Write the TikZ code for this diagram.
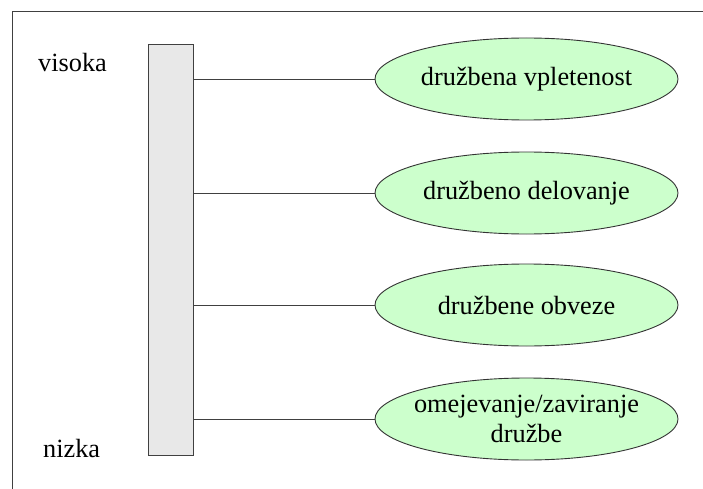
\documentclass[tikz,border=0pt]{standalone}
\usepackage{fontspec}
\setmainfont{LiberationSerif}[Extension=.ttf, UprightFont=*-Regular]
\usetikzlibrary{shapes.geometric}

\definecolor{barfill}{HTML}{E8E8E8}
\definecolor{topicfill}{HTML}{CCFFCC}
\definecolor{edgegray}{HTML}{404040}

\tikzset{
  scalebar/.style={draw=edgegray, line width=0.9pt, fill=barfill, rectangle,
    minimum width=45pt, minimum height=411pt, inner sep=0pt},
  topic/.style={draw=black!80, line width=0.9pt, fill=topicfill, ellipse,
    minimum width=303pt, minimum height=82pt, inner sep=0pt},
  topictext/.style={align=center, inner sep=0pt},
  link/.style={draw=edgegray, line width=0.9pt},
  levellabel/.style={anchor=base west, inner sep=0pt},
}

\begin{document}
\begin{tikzpicture}[x=1pt, y=-1pt, font=\rmfamily\fontsize{26.3}{30}\selectfont]
  \useasboundingbox (0,0) rectangle (703,489);
  % outer frame, running past the right and bottom edges
  \begin{scope}
    \clip (0,0) rectangle (703,489);
    \draw[edgegray, line width=0.9pt] (12,520) -- (12,11) -- (720,11);
  \end{scope}

  % vertical scale bar with its two end labels
  \node[scalebar] (bar) at (170.5,250.3) {};
  \node[levellabel] (high) at (38,72) {visoka};
  \node[levellabel] (low) at (43,457) {nizka};

  % levels of social engagement
  \node[topic, label={[topictext]center:družbena vpletenost}] (e1) at (526.5,79) {};
  \node[topic, label={[topictext]center:družbeno delovanje}] (e2) at (526.5,193) {};
  \node[topic, label={[topictext]center:družbene obveze}] (e3) at (526.5,305) {};
  \node[topic, label={[topictext]center:omejevanje/zaviranje\\družbe}] (e4) at (526.5,419) {};

  % connectors from the bar to each level
  \foreach \e in {e1,e2,e3,e4}
    \draw[link] (\e.west -| bar.east) -- (\e.west);
\end{tikzpicture}
\end{document}
